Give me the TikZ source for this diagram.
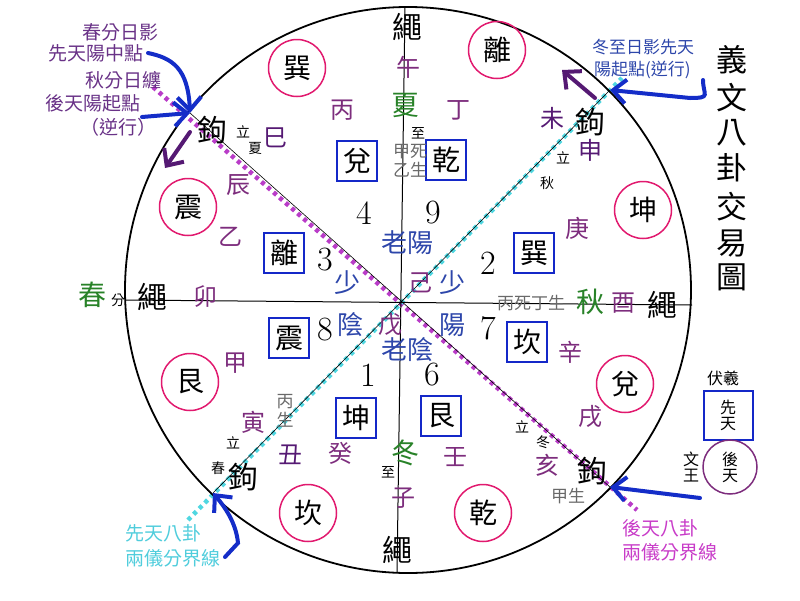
\documentclass[tikz,border=0pt]{standalone}
\usepackage{fontspec}
\newfontfamily\cjk{Noto Sans CJK TC}
\usepackage{xcolor}
\usetikzlibrary{arrows.meta,positioning,shapes}

\definecolor{ringred}{RGB}{225,25,110}
\definecolor{boxblue}{RGB}{20,40,200}
\definecolor{arrowblue}{RGB}{20,45,200}
\definecolor{plum}{RGB}{125,45,125}
\definecolor{darkplum}{RGB}{85,25,115}
\definecolor{seasongreen}{RGB}{40,130,40}
\definecolor{yyblue}{RGB}{45,70,170}
\definecolor{dimgrey}{RGB}{105,105,105}
\definecolor{notepurple}{RGB}{105,50,135}
\definecolor{notecyan}{RGB}{80,205,220}
\definecolor{notemagenta}{RGB}{200,60,200}
\definecolor{dotpurple}{RGB}{185,60,200}
\definecolor{dotcyan}{RGB}{80,215,225}

\newcommand{\cfont}[1]{\cjk\fontsize{#1}{#1}\selectfont}

\begin{document}
\begin{tikzpicture}[x=1pt,y=-1pt]
	\tikzstyle{ring}
	  =[draw=ringred, circle, line width=1.5pt, minimum size=57pt,
	  inner sep=0pt, font=\cfont{28}]
	\tikzstyle{gua}
	  =[draw=boxblue, rectangle, line width=2pt, minimum width=40pt,
	  minimum height=40pt, inner sep=0pt, font=\cfont{28}]
	\tikzstyle{big}=[inner sep=0pt, font=\cfont{30}]
	\tikzstyle{zhi}=[inner sep=0pt, text=plum, font=\cfont{24}]
	\tikzstyle{season}=[inner sep=0pt, text=seasongreen, font=\cfont{28}]
	\tikzstyle{yy}=[inner sep=0pt, text=yyblue, font=\cfont{26}]
	\tikzstyle{num}=[inner sep=0pt, font=\fontsize{34}{34}\selectfont]
	\tikzstyle{small}=[inner sep=0pt, font=\cfont{14}]
	\tikzstyle{dimtext}=[inner sep=0pt, text=dimgrey, font=\cfont{17}]
	\tikzstyle{note}=[inner sep=0pt, anchor=west, font=\cfont{19}]
	\tikzstyle{pointer}
	  =[draw=arrowblue, line width=4pt, line cap=round,
	  -{Straight Barb[length=13pt,width=24pt]}]
	\tikzstyle{turn}
	  =[draw=darkplum, line width=4pt, line cap=round,
	  -{Straight Barb[length=13pt,width=24pt]}]
	\tikzstyle{xiantian}
	  =[draw=dotcyan, line width=4.5pt, dash pattern=on 4pt off 4pt]
	\tikzstyle{houtian}
	  =[draw=dotpurple, line width=4.5pt, dash pattern=on 4pt off 4pt]

	\useasboundingbox (0,0) rectangle (800,600);

	% points on the rim and the axes
	\coordinate (O) at (408,290);
	\coordinate (X) at (402,302);
	\coordinate (N) at (405,7);
	\coordinate (S) at (397,573);
	\coordinate (W) at (125,300);
	\coordinate (E) at (692,305);
	\coordinate (nw) at (190,113);
	\coordinate (se) at (610,487);
	\coordinate (ne) at (610,90);
	\coordinate (sw) at (213,493);
	\coordinate (nwout) at (153,87);
	\coordinate (seout) at (637,510);
	\coordinate (neout) at (622,78);
	\coordinate (swout) at (188,520);

	% boundary lines
	\draw[houtian, xshift=-2pt, yshift=2pt] (nwout) -- (seout);
	\draw[xiantian, xshift=1pt, yshift=1pt] (swout) -- (neout);
	\draw[black, line width=0.6pt] (nw) -- (se);
	\draw[black, line width=0.6pt] (sw) -- (ne);
	\draw[black, line width=1.8pt] (O) circle (283);
	\draw[black, line width=1pt] (N) -- (S);
	\draw[black, line width=1pt] (W) -- (E);

	% outer ring
	\node[ring] (Xun1) at (297,68) {巽};
	\node[ring] (Li1) at (497,50) {離};
	\node[ring] (Kun1) at (643,210) {坤};
	\node[ring] (Dui1) at (625,384) {兌};
	\node[ring] (Qian1) at (483,513) {乾};
	\node[ring] (Kan1) at (308,513) {坎};
	\node[ring] (Gen1) at (190,382) {艮};
	\node[ring] (Zhen1) at (188,207) {震};

	% inner boxes
	\node[gua] (Dui2) at (357,161) {兌};
	\node[gua] (Qian2) at (446,160) {乾};
	\node[gua] (Li2) at (284,253) {離};
	\node[gua] (Xun2) at (534,253) {巽};
	\node[gua] (Zhen2) at (289,338) {震};
	\node[gua] (Kan2) at (527,342) {坎};
	\node[gua] (Kun2) at (356,418) {坤};
	\node[gua] (Gen2) at (441,416) {艮};

	% numbers
	\node[num] (n4) at (364,213) {4};
	\node[num] (n9) at (433,213) {9};
	\node[num] (n3) at (325,260) {3};
	\node[num] (n2) at (488,263) {2};
	\node[num] (n8) at (325,330) {8};
	\node[num] (n7) at (488,328) {7};
	\node[num] (n1) at (368,375) {1};
	\node[num] (n6) at (432,375) {6};

	% centre
	\node[yy] (laoyang) at (407,243) {老陽};
	\node[yy] (shao1) at (347,283) {少};
	\node[yy] (shao2) at (452,283) {少};
	\node[yy] (yin) at (350,325) {陰};
	\node[yy] (yang) at (452,325) {陽};
	\node[yy] (laoyin) at (407,350) {老陰};
	\node[zhi] (ji) at (420,283) {己};
	\node[zhi] (wu) at (390,325) {戊};

	% rope and hooks
	\node[big] (sheng1) at (407,27) {繩};
	\node[big] (sheng2) at (397,550) {繩};
	\node[big] (sheng3) at (152,297) {繩};
	\node[big] (sheng4) at (662,305) {繩};
	\node[big] (gou1) at (212,130) {鉤};
	\node[big] (gou2) at (590,122) {鉤};
	\node[big] (gou3) at (243,477) {鉤};
	\node[big] (gou4) at (592,471) {鉤};

	% seasons
	\node[season] (xia) at (405,105) {夏};
	\node[season] (dong) at (405,453) {冬};
	\node[season] (chun) at (92,295) {春};
	\node[season] (qiu) at (590,302) {秋};

	% stems and branches
	\node[zhi] (wu1) at (408,67) {午};
	\node[zhi] (bing) at (342,110) {丙};
	\node[zhi] (ding) at (458,110) {丁};
	\node[zhi, text=darkplum] (si) at (275,138) {巳};
	\node[zhi] (chen) at (238,185) {辰};
	\node[zhi] (yi) at (230,237) {乙};
	\node[zhi] (mao) at (205,297) {卯};
	\node[zhi] (jia) at (235,363) {甲};
	\node[zhi] (yin1) at (253,422) {寅};
	\node[zhi, text=darkplum] (chou) at (290,455) {丑};
	\node[zhi] (gui) at (340,453) {癸};
	\node[zhi] (zi) at (403,498) {子};
	\node[zhi] (ren) at (455,457) {壬};
	\node[zhi] (hai) at (547,465) {亥};
	\node[zhi] (xu) at (590,417) {戌};
	\node[zhi] (xin) at (570,352) {辛};
	\node[zhi] (you) at (623,303) {酉};
	\node[zhi] (geng) at (577,228) {庚};
	\node[zhi, text=darkplum] (shen) at (590,150) {申};
	\node[zhi, text=darkplum] (wei) at (552,118) {未};

	% small marks
	\node[small] (zhi1) at (418,133) {至};
	\node[small] (li1) at (243,132) {立};
	\node[small] (xia2) at (255,148) {夏};
	\node[small] (li2) at (563,158) {立};
	\node[small] (qiu2) at (547,183) {秋};
	\node[small] (li3) at (522,427) {立};
	\node[small] (dong2) at (543,442) {冬};
	\node[small] (li4) at (233,443) {立};
	\node[small] (chun2) at (218,468) {春};
	\node[small] (zhi2) at (388,472) {至};
	\node[small] (fen) at (118,300) {分};

	\node[dimtext] (jiasi) at (410,152) {甲死};
	\node[dimtext] (yisheng) at (410,170) {乙生};
	\node[dimtext] (bingsi) at (531,303) {丙死丁生};
	\node[dimtext] (bingsheng)
	  at (285,411) {\shortstack{丙\\生}};
	\node[dimtext] (jiasheng) at (568,496) {甲生};

	% notes
	\node[note, text=notepurple] (c1) at (82,32) {春分日影};
	\node[note, text=notepurple] (c2) at (48,53) {先天陽中點};
	\node[note, text=notepurple] (c3) at (85,80) {秋分日纏};
	\node[note, text=notepurple] (c4) at (45,103) {後天陽起點};
	\node[note, text=notepurple] (c5) at (80,127) {（逆行）};
	\node[note, text=yyblue, font=\cfont{17}] (d1) at (592,47) {冬至日影先天};
	\node[note, text=yyblue, font=\cfont{17}] (d2) at (594,70) {陽起點(逆行)};
	\node[note, text=notecyan] (e1) at (125,533) {先天八卦};
	\node[note, text=notecyan] (e2) at (125,558) {兩儀分界線};
	\node[note, text=notemagenta] (f1) at (622,528) {後天八卦};
	\node[note, text=notemagenta] (f2) at (622,552) {兩儀分界線};

	% arrows
	\coordinate (p1) at (148,53);
	\coordinate (p2) at (142,117);
	\coordinate (p3) at (703,80);
	\coordinate (p4) at (225,557);
	\coordinate (p5) at (700,498);
	\draw[pointer] (p1) .. controls (172,58) and (188,68) .. (nw);
	\draw[pointer] (p2) -- (nw);
	\draw[pointer] (p3) .. controls (703,95) and (712,98) .. (690,98) -- (ne);
	\draw[pointer] (p4) -- (238,543) .. controls (236,522) and (224,506) .. (sw);
	\draw[pointer] (p5) -- (se);
	\coordinate (q1) at (595,98);
	\coordinate (q2) at (562,70);
	\coordinate (q3) at (190,132);
	\coordinate (q4) at (165,168);
	\draw[turn] (q1) -- (q2);
	\draw[turn] (q3) -- (q4);

	% title
	\node[big, font=\cfont{31}] (T1) at (732,60) {義};
	\node[big, font=\cfont{31}] (T2) [below=9pt of T1] {文};
	\node[big, font=\cfont{31}] (T3) [below=7pt of T2] {八};
	\node[big, font=\cfont{31}] (T4) [below=7pt of T3] {卦};
	\node[big, font=\cfont{31}] (T5) [below=9pt of T4] {交};
	\node[big, font=\cfont{31}] (T6) [below=9pt of T5] {易};
	\node[big, font=\cfont{31}] (T7) [below=6pt of T6] {圖};

	% legend
	\node[inner sep=0pt, font=\cfont{16}] (fuxi) at (723,378) {伏羲};
	\node[draw=boxblue, line width=2pt, minimum width=49pt, minimum height=49pt,
	  inner sep=0pt, font=\cfont{16}, align=center] (xt)
	  [below=4pt of fuxi, xshift=5pt] {先\\天};
	\node[draw=plum, circle, line width=1.5pt, minimum size=54pt,
	  inner sep=0pt, font=\cfont{16}, align=center] (ht)
	  at (730,467) {後\\天};
	\node[inner sep=0pt, font=\cfont{16}, align=center] (wenwang)
	  [left=3pt of ht] {文\\王};
\end{tikzpicture}
\end{document}
